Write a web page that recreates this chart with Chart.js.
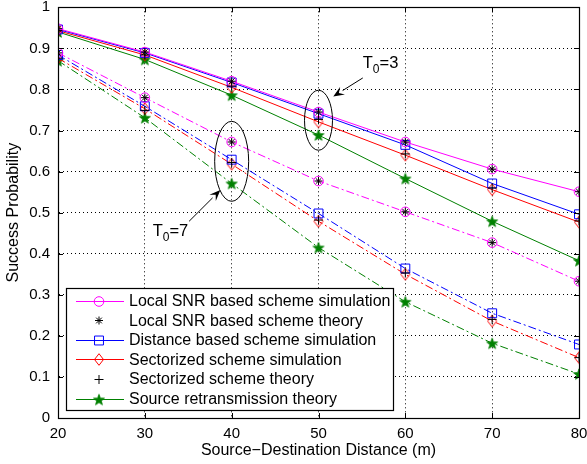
<!DOCTYPE html>
<html lang="en">
<head>
<meta charset="UTF-8">
<title>Success Probability vs Source-Destination Distance</title>
<script src="https://cdn.jsdelivr.net/npm/chart.js"></script>
<style>
  body { margin: 0; background: #fff; }
  canvas { display: block; }
</style>
</head>
<body>
<canvas id="chart" width="587" height="464"></canvas>
<script>
const distances = [20, 30, 40, 50, 60, 70, 80];

// T0 = 3 (solid lines)
const localSim3 = [0.948, 0.891, 0.820, 0.745, 0.672, 0.606, 0.551];
const localTh3  = [0.948, 0.891, 0.820, 0.745, 0.672, 0.606, 0.551];
const distSim3  = [0.946, 0.889, 0.817, 0.741, 0.665, 0.571, 0.496];
const sectSim3  = [0.943, 0.884, 0.805, 0.721, 0.640, 0.556, 0.477];
const sectTh3   = [0.943, 0.884, 0.808, 0.727, 0.643, 0.560, 0.480];
const srcTh3    = [0.940, 0.873, 0.786, 0.689, 0.583, 0.479, 0.383];

// T0 = 7 (dash-dot lines)
const localSim7 = [0.889, 0.780, 0.672, 0.577, 0.502, 0.427, 0.333];
const localTh7  = [0.889, 0.780, 0.672, 0.577, 0.502, 0.427, 0.333];
const distSim7  = [0.884, 0.759, 0.629, 0.498, 0.364, 0.255, 0.179];
const sectSim7  = [0.876, 0.753, 0.618, 0.479, 0.350, 0.236, 0.147];
const sectTh7   = [0.876, 0.749, 0.622, 0.482, 0.353, 0.240, 0.147];
const srcTh7    = [0.870, 0.731, 0.571, 0.415, 0.283, 0.182, 0.107];

const legendLabels = [
  'Local SNR based scheme simulation',
  'Local SNR based scheme theory',
  'Distance based scheme simulation',
  'Sectorized scheme simulation',
  'Sectorized scheme theory',
  'Source retransmission theory'
];

const FONT = '"Liberation Sans", Arial, Helvetica, sans-serif';
const GREEN = '#008000';
const DASHDOT = [8, 3, 2, 3];

// marker images
function makeStar(color, r) {
  const s = Math.ceil(r * 2 + 2);
  const c = document.createElement('canvas');
  c.width = s; c.height = s;
  const g = c.getContext('2d');
  g.beginPath();
  for (let k = 0; k < 10; k++) {
    const rr = k % 2 ? r * 0.42 : r;
    const a = -Math.PI / 2 + k * Math.PI / 5;
    const px = s / 2 + rr * Math.cos(a), py = s / 2 + 0.6 + rr * Math.sin(a);
    if (k) g.lineTo(px, py); else g.moveTo(px, py);
  }
  g.closePath();
  g.fillStyle = color; g.fill();
  g.strokeStyle = color; g.lineWidth = 0.8; g.stroke();
  return c;
}
function makeDiamond(color, hw, hh) {
  const w = Math.ceil(hw * 2 + 3), h = Math.ceil(hh * 2 + 3);
  const c = document.createElement('canvas');
  c.width = w; c.height = h;
  const g = c.getContext('2d');
  const cx = w / 2, cy = h / 2;
  g.beginPath();
  g.moveTo(cx, cy - hh); g.lineTo(cx + hw, cy); g.lineTo(cx, cy + hh); g.lineTo(cx - hw, cy);
  g.closePath();
  g.strokeStyle = color; g.lineWidth = 1; g.stroke();
  return c;
}
const starImg = makeStar(GREEN, 5.8);
const diamondImg = makeDiamond('#ff0000', 4.5, 5.8);

function pts(arr) { return arr.map((v, i) => ({ x: distances[i], y: v })); }

function series(label, data, color, style, radius, dash, line) {
  return {
    label: label,
    data: pts(data),
    borderColor: color,
    backgroundColor: 'rgba(0,0,0,0)',
    borderWidth: 1,
    borderDash: dash,
    showLine: line,
    pointStyle: style,
    pointRadius: radius,
    pointBorderColor: color,
    pointBorderWidth: 1,
    pointBackgroundColor: style === starImg ? GREEN : 'rgba(0,0,0,0)',
    tension: 0
  };
}

const datasets = [
  series(legendLabels[0], localSim3, '#ff00ff', 'circle', 4.8, [], true),
  series(legendLabels[1], localTh3, '#000', 'star', 4, [], false),
  series(legendLabels[2], distSim3, '#0000ff', 'rect', 6.3, [], true),
  series(legendLabels[3], sectSim3, '#ff0000', diamondImg, 5, [], true),
  series(legendLabels[4], sectTh3, '#000', 'cross', 4.5, [], false),
  series(legendLabels[5], srcTh3, GREEN, starImg, 5, [], true),
  series('T7 ' + legendLabels[0], localSim7, '#ff00ff', 'circle', 4.8, DASHDOT, true),
  series('T7 ' + legendLabels[1], localTh7, '#000', 'star', 4, [], false),
  series('T7 ' + legendLabels[2], distSim7, '#0000ff', 'rect', 6.3, DASHDOT, true),
  series('T7 ' + legendLabels[3], sectSim7, '#ff0000', diamondImg, 5, DASHDOT, true),
  series('T7 ' + legendLabels[4], sectTh7, '#000', 'cross', 4.5, [], false),
  series('T7 ' + legendLabels[5], srcTh7, GREEN, starImg, 5, DASHDOT, true)
];
// theory markers on top
[1, 4, 7, 10].forEach(i => datasets[i].order = 0);
datasets.forEach(d => { if (d.order === undefined) d.order = 1; });

// frame and inward tick marks
const frame = {
  id: 'frame',
  afterDraw(chart) {
    const ctx = chart.ctx, a = chart.chartArea;
    const xs = chart.scales.x, ys = chart.scales.y;
    ctx.save();
    ctx.strokeStyle = '#000';
    ctx.lineWidth = 1;
    ctx.beginPath();
    xs.ticks.forEach(t => {
      const px = Math.round(xs.getPixelForValue(t.value)) + 0.5;
      ctx.moveTo(px, a.bottom); ctx.lineTo(px, a.bottom - 5);
      ctx.moveTo(px, a.top); ctx.lineTo(px, a.top + 5);
    });
    ys.ticks.forEach(t => {
      const py = Math.round(ys.getPixelForValue(t.value)) + 0.5;
      ctx.moveTo(a.left, py); ctx.lineTo(a.left + 5, py);
      ctx.moveTo(a.right, py); ctx.lineTo(a.right - 5, py);
    });
    ctx.stroke();
    ctx.lineWidth = 1.2;
    ctx.strokeRect(Math.round(a.left) + 0.5, Math.round(a.top) + 0.5,
      Math.round(a.right - a.left), Math.round(a.bottom - a.top));
    ctx.restore();
  }
};

// legend box in the lower left of the plot
const legendBox = {
  id: 'legendBox',
  afterDraw(chart) {
    const ctx = chart.ctx, a = chart.chartArea;
    const left = a.left + 8, bottom = a.bottom - 8, w = 327, h = 122;
    const top = bottom - h;
    ctx.save();
    ctx.fillStyle = '#fff';
    ctx.fillRect(left, top, w, h);
    ctx.strokeStyle = '#000';
    ctx.lineWidth = 1.2;
    ctx.strokeRect(left + 0.5, top + 0.5, w, h);
    ctx.font = '16px ' + FONT;
    ctx.textBaseline = 'middle';
    for (let i = 0; i < 6; i++) {
      const d = chart.data.datasets[i];
      const cy = top + 12.5 + i * 19.6;
      if (d.showLine) {
        ctx.strokeStyle = d.borderColor;
        ctx.lineWidth = 1;
        ctx.beginPath();
        ctx.moveTo(left + 10, Math.round(cy) + 0.5);
        ctx.lineTo(left + 58, Math.round(cy) + 0.5);
        ctx.stroke();
      }
      ctx.strokeStyle = d.pointBorderColor;
      ctx.fillStyle = d.pointBackgroundColor;
      ctx.lineWidth = 1;
      Chart.helpers.drawPoint(ctx, {
        pointStyle: d.pointStyle, radius: d.pointRadius, rotation: 0, borderWidth: 1
      }, left + 33, Math.round(cy) + 0.5);
      ctx.fillStyle = '#000';
      ctx.fillText(legendLabels[i], left + 63, cy + 1);
    }
    ctx.restore();
  }
};

// T0 annotations: ellipses, arrows and labels
function drawArrow(ctx, x1, y1, x2, y2) {
  const ang = Math.atan2(y2 - y1, x2 - x1);
  const len = 11, half = 4.5;
  const bx = x2 - len * Math.cos(ang), by = y2 - len * Math.sin(ang);
  ctx.beginPath();
  ctx.moveTo(x1, y1); ctx.lineTo(bx, by);
  ctx.stroke();
  ctx.beginPath();
  ctx.moveTo(x2, y2);
  ctx.lineTo(bx + half * Math.sin(ang), by - half * Math.cos(ang));
  ctx.lineTo(x2 - 0.6 * len * Math.cos(ang), y2 - 0.6 * len * Math.sin(ang));
  ctx.lineTo(bx - half * Math.sin(ang), by + half * Math.cos(ang));
  ctx.closePath();
  ctx.fill();
}
function subLabel(ctx, x, y, sub, rest) {
  ctx.font = '16.5px ' + FONT;
  ctx.fillText('T', x, y);
  const tw = ctx.measureText('T').width;
  ctx.font = '12px ' + FONT;
  ctx.fillText(sub, x + tw, y + 5);
  const sw = ctx.measureText(sub).width;
  ctx.font = '16.5px ' + FONT;
  ctx.fillText(rest, x + tw + sw, y);
}
const annotations = {
  id: 'annotations',
  afterDraw(chart) {
    const ctx = chart.ctx, xs = chart.scales.x, ys = chart.scales.y;
    const X = v => xs.getPixelForValue(v), Y = v => ys.getPixelForValue(v);
    ctx.save();
    ctx.strokeStyle = '#000';
    ctx.fillStyle = '#000';
    ctx.lineWidth = 1;
    ctx.beginPath();
    ctx.ellipse(X(50), Y(0.725), 14, 30, 0, 0, Math.PI * 2);
    ctx.stroke();
    ctx.beginPath();
    ctx.ellipse(X(40), Y(0.625), 17, 40, 0, 0, Math.PI * 2);
    ctx.stroke();
    drawArrow(ctx, X(55.1), Y(0.828), X(51.7), Y(0.783));
    drawArrow(ctx, X(35.1), Y(0.479), X(38.7), Y(0.555));
    ctx.textBaseline = 'alphabetic';
    ctx.textAlign = 'left';
    subLabel(ctx, X(55.1), Y(0.853), '0', '=3');
    subLabel(ctx, X(30.9), Y(0.443), '0', '=7');
    ctx.restore();
  }
};

Chart.defaults.color = '#000';
Chart.defaults.font.family = FONT;

new Chart(document.getElementById('chart'), {
  type: 'line',
  data: { datasets: datasets },
  options: {
    responsive: false,
    devicePixelRatio: 1,
    animation: false,
    layout: { padding: { top: 7, right: 8, left: 0, bottom: 0 } },
    plugins: { legend: { display: false }, tooltip: { enabled: false } },
    scales: {
      x: {
        type: 'linear',
        min: 20, max: 80,
        afterFit: s => { s.height = 46; s.paddingLeft = 0; s.paddingRight = 0; },
        ticks: { stepSize: 10, autoSkip: false, maxRotation: 0, padding: 7, font: { size: 15 } },
        grid: { color: '#000', lineWidth: 1, drawTicks: false },
        border: { display: true, color: '#000', width: 1, dash: [1, 3] },
        title: { display: true, text: 'Source\u2212Destination Distance (m)', font: { size: 16 }, padding: { top: 0, bottom: 4 } }
      },
      y: {
        type: 'linear',
        min: 0, max: 1,
        afterFit: s => { s.width = 58; s.paddingTop = 0; s.paddingBottom = 0; },
        ticks: {
          stepSize: 0.1, padding: 8, font: { size: 15 },
          callback: v => String(Math.round(v * 10) / 10)
        },
        grid: { color: '#000', lineWidth: 1, drawTicks: false },
        border: { display: true, color: '#000', width: 1, dash: [1, 3] },
        title: { display: true, text: 'Success Probability', font: { size: 16 }, padding: { top: 4, bottom: 0 } }
      }
    }
  },
  plugins: [frame, annotations, legendBox]
});
</script>
</body>
</html>
